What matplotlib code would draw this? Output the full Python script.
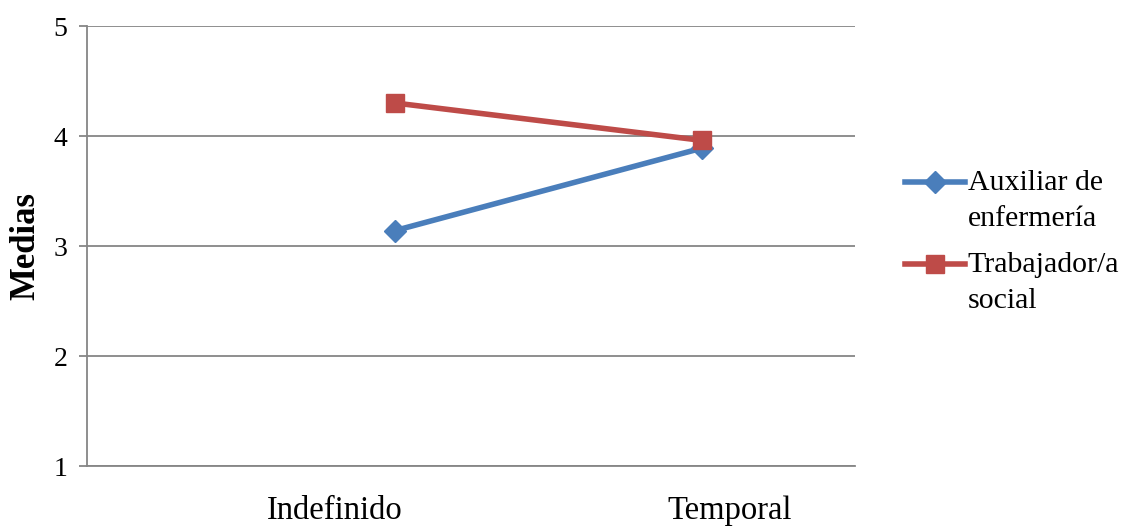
import matplotlib
matplotlib.use("Agg")
import matplotlib.pyplot as plt
from matplotlib.transforms import ScaledTranslation
from matplotlib.legend_handler import HandlerLine2D

categories = ["Indefinido", "Temporal"]
auxiliar = [3.14, 3.89]
trabajador = [4.30, 3.96]
series_names = ["Auxiliar de\nenfermería", "Trabajador/a\nsocial"]
yticks = [1, 2, 3, 4, 5]

plt.rcParams['font.family'] = ['Liberation Serif', 'DejaVu Serif']

fig = plt.figure(figsize=(11.32, 5.26), dpi=100)
ax = fig.add_axes([87/1132, 1-466/526, (855-87)/1132, (466-26)/526])

blue = "#4A7EBB"
red = "#BE4B48"
grid = "#868686"

x = list(range(len(categories)))
ax.plot(x, auxiliar, color=blue, lw=4, marker="D", ms=11, label=series_names[0], zorder=3)
ax.plot(x, trabajador, color=red, lw=4, marker="s", ms=13, label=series_names[1], zorder=3)

ax.set_xlim(-1.003, 1.498)
ax.set_ylim(1, 5)
ax.set_yticks(yticks)
ax.set_yticklabels([str(v) for v in yticks], fontsize=20)
ax.yaxis.grid(True, color=grid, lw=1.3)
ax.set_axisbelow(True)
for s in ["top", "right"]:
    ax.spines[s].set_visible(False)
ax.spines["left"].set_color(grid)
ax.spines["bottom"].set_color(grid)
ax.spines["left"].set_linewidth(1.3)
ax.spines["bottom"].set_linewidth(1.3)
ax.tick_params(axis="y", length=6, color=grid, width=1.3, pad=8)
ax.tick_params(axis="x", length=0, pad=21)
ax.set_xticks(x)
ax.set_xticklabels(categories, fontsize=23.5)
offsets = [-60, 28]
for lbl, off in zip(ax.get_xticklabels(), offsets):
    lbl.set_transform(lbl.get_transform() + ScaledTranslation(off/100, 0, fig.dpi_scale_trans))

ax.set_ylabel("Medias", fontsize=25, fontweight="bold")
ax.yaxis.set_label_coords(-0.058, 0.5)


class TopHandler(HandlerLine2D):
    def create_artists(self, legend, orig_handle, xdescent, ydescent, width, height, fontsize, trans):
        arts = super().create_artists(legend, orig_handle, xdescent, ydescent, width, height, fontsize, trans)
        for a in arts:
            yd = a.get_ydata()
            a.set_ydata([v + 0.62 * fontsize for v in yd])
        return arts


leg = ax.legend(loc="center left", bbox_to_anchor=(905/1132, 1 - 242/526), bbox_transform=fig.transFigure,
                frameon=False, fontsize=21.5, handlelength=2.0, handletextpad=0.1, labelspacing=0.7,
                borderaxespad=0, borderpad=0, handler_map={plt.Line2D: TopHandler()})
for t in leg.get_texts():
    t.set_linespacing(1.5)

fig.savefig("out.png", dpi=100)
